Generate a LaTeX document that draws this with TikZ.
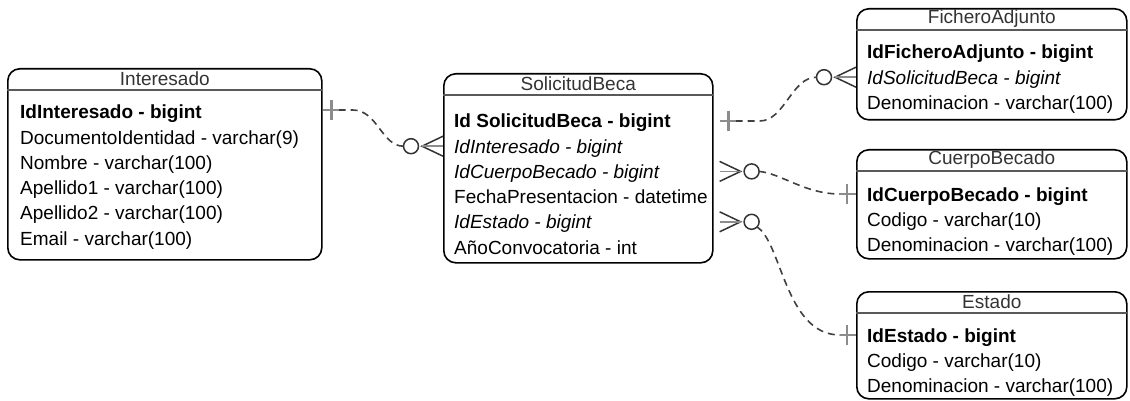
\documentclass[tikz,border=0pt]{standalone}
\usepackage{fontspec}
\setmainfont{Liberation Sans}
\usetikzlibrary{calc,positioning}

\begin{document}
\begin{tikzpicture}[x=1pt,y=-1pt,font=\fontsize{19}{25}\selectfont,
  entidad/.style={draw,line width=1.6pt,rounded corners=12pt,anchor=north west,inner sep=0pt},
  titulo/.style={text=black!80},
  campo/.style={anchor=base west,inner sep=0pt,text height=16pt,text depth=2pt},
  sep/.style={draw=black!65,line width=2pt},
  rel/.style={draw=black!75,line width=1.6pt,dash pattern=on 7pt off 5pt},
  marca/.style={draw=black!45,line width=2.4pt},
  pata/.style={draw=black!80,line width=1.5pt},
  uno/.pic={\draw[marca] (0,0) -- (16,0) (9,-10) -- (9,10);},
  ceromuchos/.pic={\draw[pata] (0,-10) -- (-21,0) -- (0,10);
    \draw[marca,line width=1.5pt] (0,0) -- (-21,0);
    \draw[pata,fill=white] (-32,0) circle (7.5pt);}]
\useasboundingbox (0,0) rectangle (1130,401);

\node[entidad,minimum width=314pt,minimum height=191pt] (interesado) at (7,68) {};
\node[titulo] (interesado-t) at ([yshift=-11pt]interesado.north) {Interesado};
\draw[sep] ([yshift=-22pt]interesado.north west) -- ([yshift=-22pt]interesado.north east);
\foreach \t [count=\i from 0] in {\bfseries IdInteresado - bigint,DocumentoIdentidad - varchar(9),Nombre - varchar(100),Apellido1 - varchar(100),Apellido2 - varchar(100),Email - varchar(100)}
  \node[campo] (int-\i) at ($(interesado.north west)+(13,51+25.2*\i)$) {\t};

\node[entidad,minimum width=269pt,minimum height=189pt] (solicitud) at (443,73) {};
\node[titulo] (solicitud-t) at ([yshift=-11pt]solicitud.north) {SolicitudBeca};
\draw[sep] ([yshift=-22pt]solicitud.north west) -- ([yshift=-22pt]solicitud.north east);
\foreach \t [count=\i from 0] in {\bfseries Id SolicitudBeca - bigint,\itshape IdInteresado - bigint,\itshape IdCuerpoBecado - bigint,FechaPresentacion - datetime,\itshape IdEstado - bigint,AñoConvocatoria - int}
  \node[campo] (sol-\i) at ($(solicitud.north west)+(11,55+25.2*\i)$) {\t};

\node[entidad,minimum width=270pt,minimum height=111pt] (fichero) at (856,8) {};
\node[titulo] (fichero-t) at ([yshift=-11pt]fichero.north) {FicheroAdjunto};
\draw[sep] ([yshift=-22pt]fichero.north west) -- ([yshift=-22pt]fichero.north east);
\foreach \t [count=\i from 0] in {\bfseries IdFicheroAdjunto - bigint,\itshape IdSolicitudBeca - bigint,Denominacion - varchar(100)}
  \node[campo] (fic-\i) at ($(fichero.north west)+(11,51+25.2*\i)$) {\t};

\node[entidad,minimum width=270pt,minimum height=109pt] (cuerpo) at (856,149) {};
\node[titulo] (cuerpo-t) at ([yshift=-11pt]cuerpo.north) {CuerpoBecado};
\draw[sep] ([yshift=-22pt]cuerpo.north west) -- ([yshift=-22pt]cuerpo.north east);
\foreach \t [count=\i from 0] in {\bfseries IdCuerpoBecado - bigint,Codigo - varchar(10),Denominacion - varchar(100)}
  \node[campo] (cue-\i) at ($(cuerpo.north west)+(11,52+25.2*\i)$) {\t};

\node[entidad,minimum width=270pt,minimum height=107pt] (estado) at (856,291) {};
\node[titulo] (estado-t) at ([yshift=-11pt]estado.north) {Estado};
\draw[sep] ([yshift=-22pt]estado.north west) -- ([yshift=-22pt]estado.north east);
\foreach \t [count=\i from 0] in {\bfseries IdEstado - bigint,Codigo - varchar(10),Denominacion - varchar(100)}
  \node[campo] (est-\i) at ($(estado.north west)+(11,51+25.2*\i)$) {\t};

\draw[rel] ($(int-0 -| interesado.east)+(16,-2)$) -- ++(14,0) .. controls +(25,0) and +(-22,0) .. ($(sol-1 -| solicitud.west)+(-39.5,0)$);
\pic at ($(int-0 -| interesado.east)+(0,-2)$) {uno};
\pic at (sol-1 -| solicitud.west) {ceromuchos};

\draw[rel] ($(sol-0 -| solicitud.east)+(22,0)$) -- ++(24,0) .. controls +(25,0) and +(-25,0) .. ($(fic-1 -| fichero.west)+(-39.5,0)$);
\pic at ($(sol-0 -| solicitud.east)+(6,0)$) {uno};
\pic at (fic-1 -| fichero.west) {ceromuchos};

\draw[rel] ($(sol-2 -| solicitud.east)+(45.5,0)$) .. controls +(22,2) and +(-35,0) .. ($(cue-0 -| cuerpo.west)+(-16,0)$);
\pic[rotate=180] at ($(sol-2 -| solicitud.east)+(6,0)$) {ceromuchos};
\pic[rotate=180] at (cue-0 -| cuerpo.west) {uno};

\draw[rel] ($(sol-4 -| solicitud.east)+(43,5)$) .. controls +(25,14) and +(-55,0) .. ($(est-0 -| estado.west)+(-16,0)$);
\pic[rotate=180] at ($(sol-4 -| solicitud.east)+(6,0)$) {ceromuchos};
\pic[rotate=180] at (est-0 -| estado.west) {uno};
\end{tikzpicture}
\end{document}
